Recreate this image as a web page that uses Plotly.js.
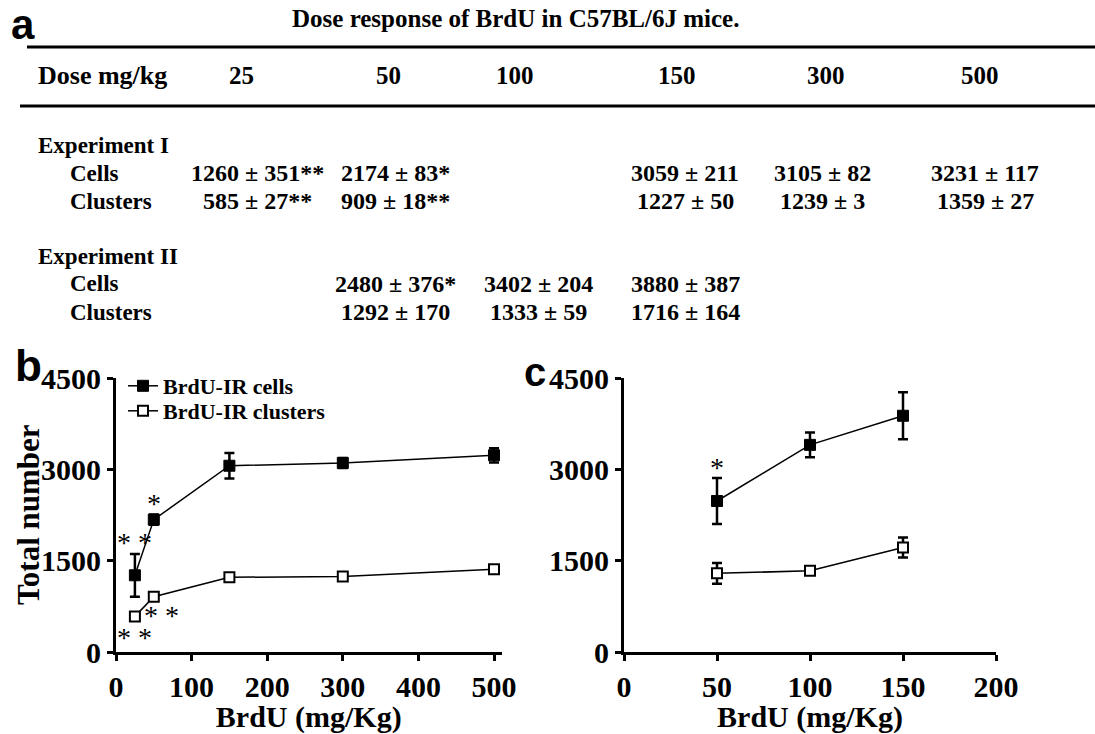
<!DOCTYPE html>
<html>
<head>
<meta charset="utf-8">
<script src="https://cdn.plot.ly/plotly-3.0.1.min.js"></script>
<style>html,body{margin:0;padding:0;background:#fff;}#chart{width:1095px;height:734px;}</style>
</head>
<body>
<div id="chart"></div>
<script>
// ---------- data ----------
var tableTitle = 'Dose response of BrdU in C57BL/6J mice.';
var tableDoses = [25, 50, 100, 150, 300, 500];

var exp1Doses = [25, 50, 150, 300, 500];
var exp1Cells = [1260, 2174, 3059, 3105, 3231];
var exp1CellsSem = [351, 83, 211, 82, 117];
var exp1CellsSig = ['**', '*', '', '', ''];
var exp1Clusters = [585, 909, 1227, 1239, 1359];
var exp1ClustersSem = [27, 18, 50, 3, 27];
var exp1ClustersSig = ['**', '**', '', '', ''];

var exp2Doses = [50, 100, 150];
var exp2Cells = [2480, 3402, 3880];
var exp2CellsSem = [376, 204, 387];
var exp2CellsSig = ['*', '', ''];
var exp2Clusters = [1292, 1333, 1716];
var exp2ClustersSem = [170, 59, 164];
var exp2ClustersSig = ['', '', ''];

var yTicks = [0, 1500, 3000, 4500];
var xTicksB = [0, 100, 200, 300, 400, 500];
var xTicksC = [0, 50, 100, 150, 200];

// ---------- helpers ----------
var W = 1095, H = 734;
function PX(x) { return x / W; }
function PY(y) { return 1 - y / H; }
var SERIF = 'Liberation Serif';
var SANS = 'Liberation Sans';
function sfont(size) { return {family: SERIF, size: size, color: '#000', weight: 'bold'}; }

var annotations = [];
var shapes = [];

// ---------- table (panel a) ----------
annotations.push({xref: 'paper', yref: 'paper', x: PX(10), y: 1, xanchor: 'left', yanchor: 'top', borderpad: 0,
  text: 'a', showarrow: false, font: {family: SANS, size: 42, color: '#000', weight: 'bold'}});
annotations.push({xref: 'paper', yref: 'paper', x: PX(515), y: PY(18), xanchor: 'center', yanchor: 'middle',
  text: tableTitle, showarrow: false, font: sfont(25)});
shapes.push({type: 'line', xref: 'paper', yref: 'paper', x0: PX(27), x1: 1, y0: PY(47), y1: PY(47), line: {color: '#000', width: 3}});
shapes.push({type: 'line', xref: 'paper', yref: 'paper', x0: PX(20), x1: 1, y0: PY(106), y1: PY(106), line: {color: '#000', width: 3}});

var headerX = {25: 241, 50: 388, 100: 515, 150: 677, 300: 826, 500: 980};
var valueX = {25: 257, 50: 395, 100: 538, 150: 685, 300: 823, 500: 985};

function label(text, x, y, size) {
  annotations.push({xref: 'paper', yref: 'paper', x: PX(x), y: PY(y), xanchor: 'left', yanchor: 'middle',
    text: text, showarrow: false, font: sfont(size || 23)});
}
label('Dose mg/kg', 36, 76, 26);
tableDoses.forEach(function (d) {
  annotations.push({xref: 'paper', yref: 'paper', x: PX(headerX[d]), y: PY(76), xanchor: 'center', yanchor: 'middle',
    text: String(d), showarrow: false, font: sfont(25)});
});
label('Experiment I', 36, 146);
label('Cells', 68, 173);
label('Clusters', 68, 201);
label('Experiment II', 36, 256);
label('Cells', 68, 284);
label('Clusters', 68, 312);

function valueRow(doses, means, sems, sigs, y) {
  doses.forEach(function (d, i) {
    annotations.push({xref: 'paper', yref: 'paper', x: PX(valueX[d]), y: PY(y), xanchor: 'center', yanchor: 'middle',
      text: means[i] + ' \u00b1 ' + sems[i] + sigs[i], showarrow: false, font: sfont(24)});
  });
}
valueRow(exp1Doses, exp1Cells, exp1CellsSem, exp1CellsSig, 173);
valueRow(exp1Doses, exp1Clusters, exp1ClustersSem, exp1ClustersSig, 201);
valueRow(exp2Doses, exp2Cells, exp2CellsSem, exp2CellsSig, 284);
valueRow(exp2Doses, exp2Clusters, exp2ClustersSem, exp2ClustersSig, 312);

// ---------- panel letters ----------
annotations.push({xref: 'paper', yref: 'paper', x: PX(13), y: PY(366), xanchor: 'left', yanchor: 'middle',
  text: 'b', showarrow: false, font: {family: SANS, size: 44, color: '#000', weight: 'bold'}});
annotations.push({xref: 'paper', yref: 'paper', x: PX(522), y: PY(372), xanchor: 'left', yanchor: 'middle',
  text: 'c', showarrow: false, font: {family: SANS, size: 40, color: '#000', weight: 'bold'}});

// y-axis title of panel b
annotations.push({xref: 'paper', yref: 'paper', x: PX(28), y: PY(515), xanchor: 'center', yanchor: 'middle',
  textangle: -90, text: 'Total number', showarrow: false, font: sfont(31)});

// ---------- significance stars on plots ----------
function spaced(s) { return s.split('').join(' '); }
var starFont = {family: SERIF, size: 28, color: '#000'};
function starsAbove(doses, means, sems, sigs, xr, yr) {
  doses.forEach(function (d, i) {
    if (!sigs[i]) return;
    annotations.push({xref: xr, yref: yr, x: d, y: means[i] + sems[i], xanchor: 'center', yanchor: 'middle',
      yshift: 11, text: spaced(sigs[i]), showarrow: false, font: starFont});
  });
}
function starsBelow(doses, means, sems, sigs, xr, yr) {
  doses.forEach(function (d, i) {
    if (!sigs[i]) return;
    var first = i === 0;
    annotations.push({xref: xr, yref: yr, x: d, y: first ? means[i] - sems[i] : means[i], xanchor: 'center', yanchor: 'middle',
      yshift: -19, xshift: first ? 0 : 8, text: spaced(sigs[i]), showarrow: false, font: starFont});
  });
}
starsAbove(exp1Doses, exp1Cells, exp1CellsSem, exp1CellsSig, 'x', 'y');
starsBelow(exp1Doses, exp1Clusters, exp1ClustersSem, exp1ClustersSig, 'x', 'y');
starsAbove(exp2Doses, exp2Cells, exp2CellsSem, exp2CellsSig, 'x2', 'y2');
starsBelow(exp2Doses, exp2Clusters, exp2ClustersSem, exp2ClustersSig, 'x2', 'y2');

// ---------- traces ----------
function err(arr) { return {type: 'data', array: arr, visible: true, color: '#000', thickness: 2.5, width: 5}; }
var filled = {symbol: 'square', size: 11, color: '#000', line: {color: '#000', width: 1}};
var open = {symbol: 'square', size: 10, color: '#fff', line: {color: '#000', width: 2}};
var lineStyle = {color: '#000', width: 1.5};

var traces = [
  {x: exp1Doses, y: exp1Cells, error_y: err(exp1CellsSem), mode: 'lines+markers', type: 'scatter',
   name: 'BrdU-IR cells', marker: filled, line: lineStyle, xaxis: 'x', yaxis: 'y', legend: 'legend'},
  {x: exp1Doses, y: exp1Clusters, error_y: err(exp1ClustersSem), mode: 'lines+markers', type: 'scatter',
   name: 'BrdU-IR clusters', marker: open, line: lineStyle, xaxis: 'x', yaxis: 'y', legend: 'legend2'},
  {x: exp2Doses, y: exp2Cells, error_y: err(exp2CellsSem), mode: 'lines+markers', type: 'scatter',
   name: 'BrdU-IR cells', marker: filled, line: lineStyle, xaxis: 'x2', yaxis: 'y2', showlegend: false},
  {x: exp2Doses, y: exp2Clusters, error_y: err(exp2ClustersSem), mode: 'lines+markers', type: 'scatter',
   name: 'BrdU-IR clusters', marker: open, line: lineStyle, xaxis: 'x2', yaxis: 'y2', showlegend: false}
];

function xax(domain, range, ticks, anchor) {
  return {domain: domain, range: range, anchor: anchor, tickmode: 'array', tickvals: ticks, ticktext: ticks.map(String),
    showline: true, linecolor: '#000', linewidth: 3, ticks: 'outside', ticklen: 6, tickwidth: 3, tickcolor: '#000',
    showgrid: false, zeroline: false, tickfont: sfont(30), fixedrange: true,
    title: {text: 'BrdU (mg/Kg)', font: sfont(30), standoff: 4}};
}
function yax(domain, anchor) {
  return {domain: domain, range: [0, 4500], anchor: anchor, tickmode: 'array', tickvals: yTicks, ticktext: yTicks.map(String),
    showline: true, linecolor: '#000', linewidth: 3, ticks: 'outside', ticklen: 6, tickwidth: 3, tickcolor: '#000',
    showgrid: false, zeroline: false, tickfont: sfont(30), fixedrange: true, ticklabelstandoff: 0};
}
var yDom = [PY(652), PY(378)];
var legendBase = {xanchor: 'left', yanchor: 'middle', bgcolor: 'rgba(0,0,0,0)', borderwidth: 0,
  font: {family: SERIF, size: 22, color: '#000', weight: 'bold'}, itemwidth: 30, tracegroupgap: 0};

var layout = {
  width: W, height: H, autosize: false,
  margin: {l: 0, r: 0, t: 0, b: 0},
  paper_bgcolor: '#fff', plot_bgcolor: '#fff',
  showlegend: true,
  xaxis: xax([PX(116), PX(116 + 510 * 0.756)], [0, 510], xTicksB, 'y'),
  yaxis: yax(yDom, 'x'),
  xaxis2: xax([PX(624), PX(996)], [0, 200], xTicksC, 'y2'),
  yaxis2: yax(yDom, 'x2'),
  legend: Object.assign({}, legendBase, {x: PX(123), y: PY(386)}),
  legend2: Object.assign({}, legendBase, {x: PX(123), y: PY(411)}),
  annotations: annotations,
  shapes: shapes
};

Plotly.newPlot('chart', traces, layout, {displayModeBar: false, staticPlot: true});
</script>
</body>
</html>
